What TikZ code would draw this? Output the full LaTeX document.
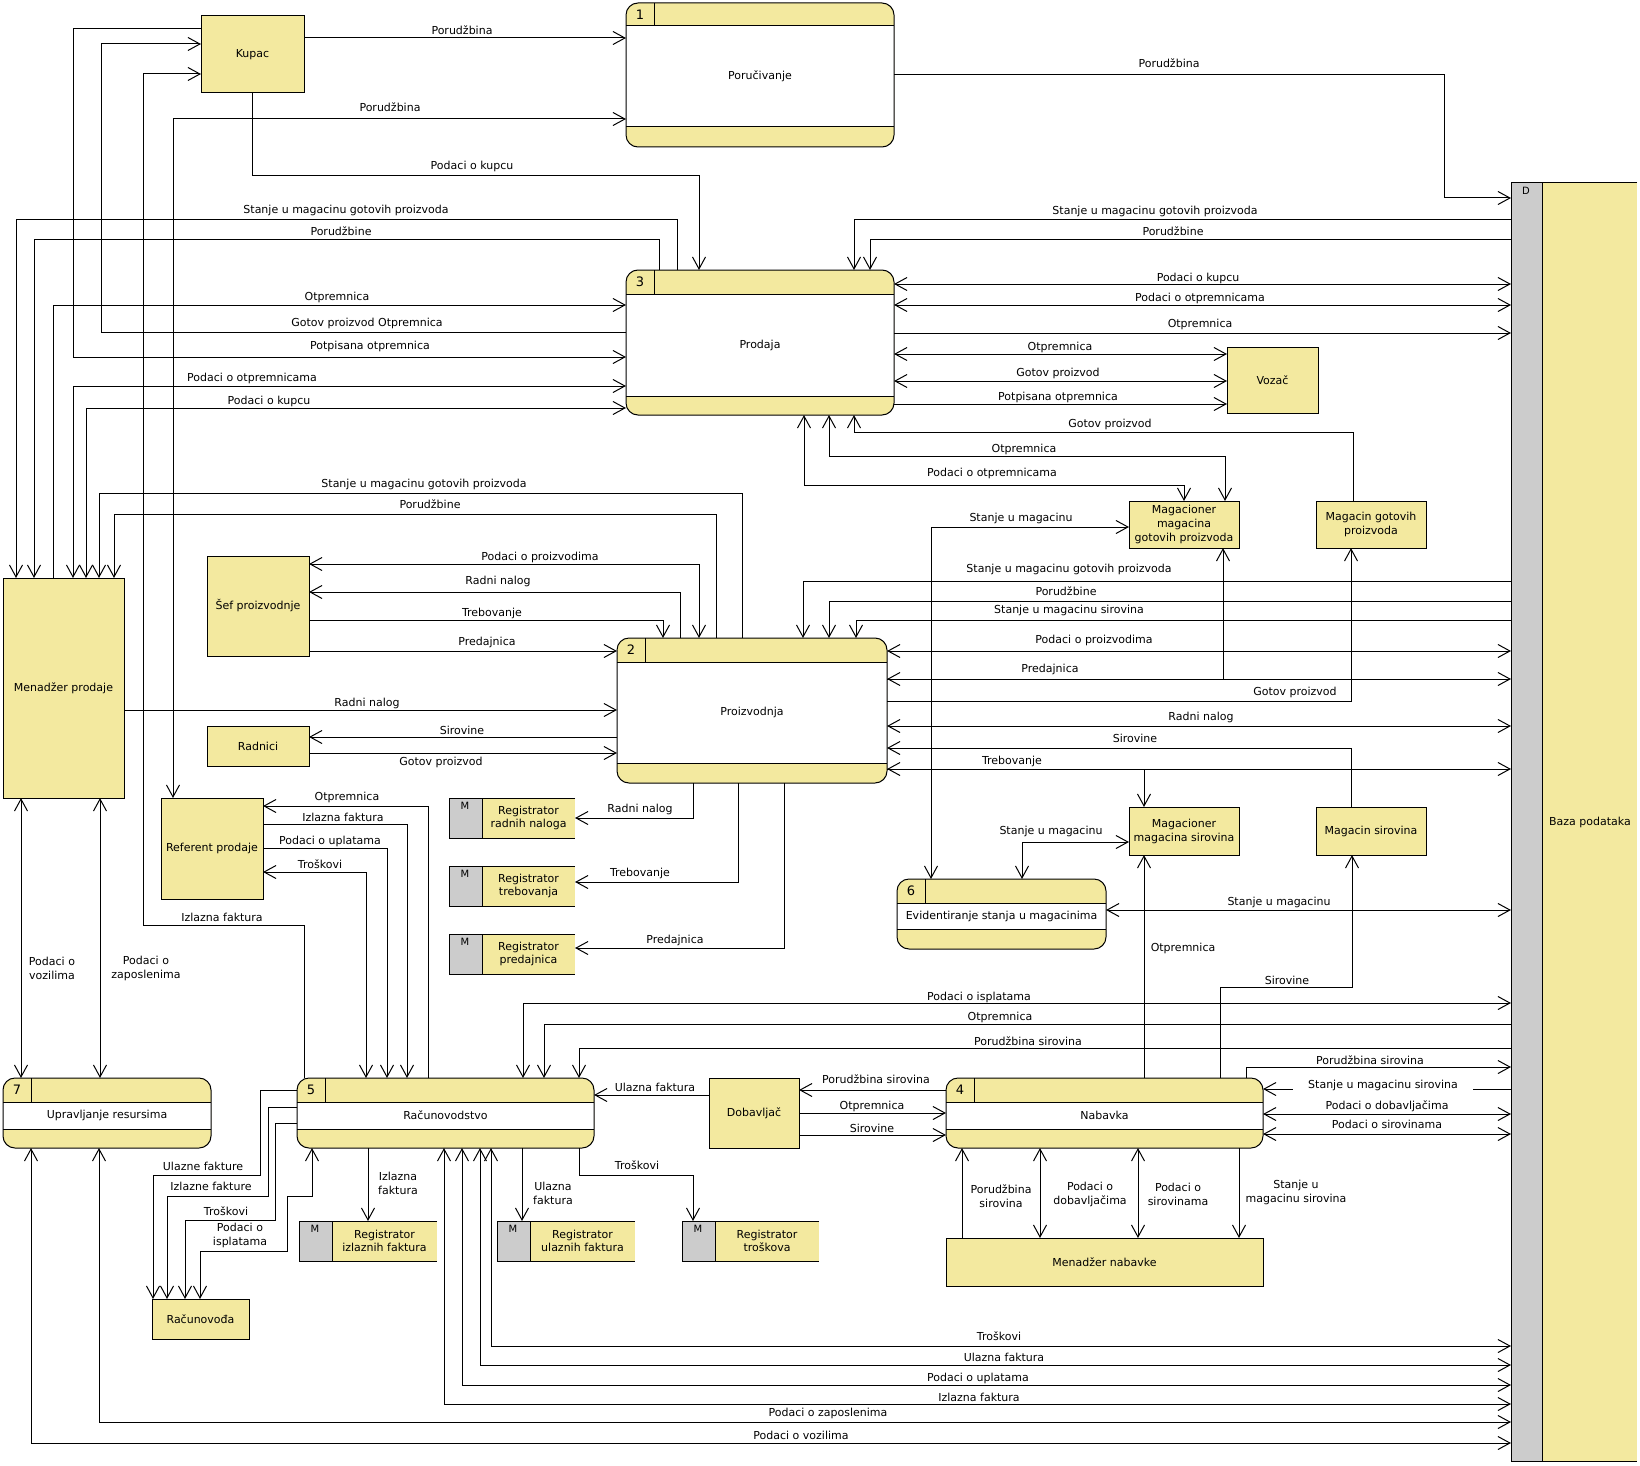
\documentclass[tikz,border=0pt]{standalone}
\usepackage{fontspec}
\setmainfont{DejaVu Sans}
\usetikzlibrary{arrows.meta,fit}
\definecolor{yel}{RGB}{243,233,159}
\definecolor{gry}{RGB}{204,204,204}
\newcounter{lc}
\newcommand\lbl[2]{\stepcounter{lc}\node[lab] (lab\arabic{lc}) at (#1) {#2};}
\newcommand\ent[6]{\node[ent, minimum width={(#4-#2)*1pt}, minimum height={(#5-#3)*1pt}] (#1) at ({(#2+#4)/2},{(#3+#5)/2}) {#6};}
\newcommand\proc[9]{%
 \fill[yel,rounded corners=12pt] (#2,#3) rectangle (#4,#5);
 \fill[white] (#2,#6) rectangle (#4,#7);
 \draw (#2,#6) -- (#4,#6) (#2,#7) -- (#4,#7) ({#2+28},#3) -- ({#2+28},#6);
 \draw[rounded corners=12pt] (#2,#3) rectangle (#4,#5);
 \node[inner sep=0pt, outer sep=0pt, fit={(#2,#3) (#4,#5)}] (#1) {};
 \node[font=\fontsize{13}{15}\selectfont] (#1n) at ({#2+14},{(#3+#6)/2}) {#8};
 \node (#1t) at ({(#2+#4)/2},{(#6+#7)/2}) {#9};
}
\newcommand\dstore[6]{%
 \fill[yel] (#2,#3) rectangle (#4,#5);
 \fill[gry] (#2,#3) rectangle ({#2+33},#5);
 \draw (#4,#3) -- (#2,#3) -- (#2,#5) -- (#4,#5) ({#2+33},#3) -- ({#2+33},#5);
 \node[inner sep=0pt, outer sep=0pt, fit={(#2,#3) (#4,#5)}] (#1) {};
 \node[font=\fontsize{10}{12}\selectfont] (#1m) at ({#2+16},{#3+8}) {M};
 \node[align=center, font=\fontsize{11}{13}\selectfont] (#1t) at ({(#2+33+#4)/2},{(#3+#5)/2}) {#6};
}
\begin{document}
\begin{tikzpicture}[x=1pt,y=-1pt, line width=1pt, font=\fontsize{11}{14}\selectfont,
  >={Straight Barb[length=12pt,width=13pt]},
  arr/.style={->}, barr/.style={<->},
  ent/.style={draw, fill=yel, inner sep=1pt, outer sep=0pt, align=center},
  lab/.style={inner sep=1pt, align=center}]
\useasboundingbox (0,0) rectangle (1640,1466);
\fill[white] (0,0) rectangle (1640,1466);

% data store D
\fill[yel] (1511,183) rectangle (1637,1461);
\fill[gry] (1511,183) rectangle (1542,1461);
\draw (1637,183) -- (1511,183) -- (1511,1461) -- (1637,1461) (1542,183) -- (1542,1461);
\node[inner sep=0pt, outer sep=0pt, fit={(1511,183) (1637,1461)}] (db) {};
\node[font=\fontsize{10}{12}\selectfont] (dbd) at (1526,191) {D};
\node (dbt) at (1590,822) {Baza podataka};

% processes
\proc{p1}{626}{3}{894}{147}{26}{127}{1}{Poručivanje}
\proc{p3}{626}{270}{894}{415}{294}{396}{3}{Prodaja}
\proc{p2}{617}{638}{887}{783}{662}{763}{2}{Proizvodnja}
\proc{p6}{897}{879}{1106}{949}{903}{929}{6}{Evidentiranje stanja u magacinima}
\proc{p7}{3}{1078}{211}{1148}{1102}{1129}{7}{Upravljanje resursima}
\proc{p5}{297}{1078}{594}{1148}{1102}{1129}{5}{Računovodstvo}
\proc{p4}{946}{1078}{1263}{1148}{1102}{1129}{4}{Nabavka}

% entities
\ent{kupac}{201}{16}{304}{93}{Kupac}
\ent{vozac}{1227}{347}{1318}{413}{Vozač}
\ent{mgot}{1129}{501}{1239}{548}{Magacioner\\magacina\\gotovih proizvoda}
\ent{magot}{1316}{501}{1426}{548}{Magacin gotovih\\proizvoda}
\ent{mp}{3}{578}{124}{798}{Menadžer prodaje}
\ent{sef}{207}{556}{309}{656}{Šef proizvodnje}
\ent{rad}{207}{726}{309}{766}{Radnici}
\ent{ref}{161}{798}{263}{899}{Referent prodaje}
\ent{msir}{1129}{807}{1239}{855}{Magacioner\\magacina sirovina}
\ent{masir}{1316}{807}{1426}{855}{Magacin sirovina}
\ent{racd}{152}{1299}{249}{1339}{Računovođa}
\ent{dob}{709}{1078}{799}{1148}{Dobavljač}
\ent{mn}{946}{1238}{1263}{1286}{Menadžer nabavke}

% data stores M
\dstore{rrn}{449}{798}{575}{838}{Registrator\\radnih naloga}
\dstore{rtr}{449}{866}{575}{906}{Registrator\\trebovanja}
\dstore{rpr}{449}{934}{575}{974}{Registrator\\predajnica}
\dstore{rif}{299}{1221}{437}{1261}{Registrator\\izlaznih faktura}
\dstore{ruf}{497}{1221}{635}{1261}{Registrator\\ulaznih faktura}
\dstore{rtk}{682}{1221}{819}{1261}{Registrator\\troškova}

% ---- connectors: p1
\draw[arr] (kupac.east|-0,38) -- (p1.west|-0,38);
\draw[barr] (ref.north-|173,0) |- (p1.west|-0,119);
\draw[arr] (p1.east|-0,75) -- (1444,75) -- (1444,198) -- (db.west|-0,198);
% p3 left/top
\draw[arr] (kupac.south-|252,0) |- (699,176) -- (p3.north-|699,0);
\draw[arr] (p3.north-|677,0) |- (16,219) -- (mp.north-|16,0);
\draw[arr] (p3.north-|659,0) |- (34,239) -- (mp.north-|34,0);
\draw[arr] (mp.north-|53,0) |- (p3.west|-0,305);
\draw[arr] (p3.west|-0,332) -| (101,44) -- (kupac.west|-0,44);
\draw[arr] (kupac.west|-0,29) -| (73,357) -- (p3.west|-0,357);
\draw[barr] (mp.north-|73,0) |- (p3.west|-0,386);
\draw[barr] (mp.north-|86,0) |- (p3.west|-0,408);
\draw[arr] (p5.north-|304,0) |- (143,925) |- (kupac.west|-0,74);
% p3 right
\draw[arr] (db.west|-0,219) -| (p3.north-|854,0);
\draw[arr] (db.west|-0,239) -| (p3.north-|870,0);
\draw[barr] (p3.east|-0,284) -- (db.west|-0,284);
\draw[barr] (p3.east|-0,305) -- (db.west|-0,305);
\draw[arr] (p3.east|-0,333) -- (db.west|-0,333);
\draw[barr] (p3.east|-0,354) -- (vozac.west|-0,354);
\draw[barr] (p3.east|-0,381) -- (vozac.west|-0,381);
\draw[arr] (p3.east|-0,404) -- (vozac.west|-0,404);
\draw[arr] (magot.north-|1353,0) |- (854,432) -- (p3.south-|854,0);
\draw[barr] (p3.south-|829,0) |- (1225,456) -- (mgot.north-|1225,0);
\draw[barr] (p3.south-|804,0) |- (1184,485) -- (mgot.north-|1184,0);
% p2 left/top
\draw[arr] (p2.north-|742,0) |- (99,493) -- (mp.north-|99,0);
\draw[arr] (p2.north-|716,0) |- (114,514) -- (mp.north-|114,0);
\draw[barr] (sef.east|-0,564) -| (p2.north-|699,0);
\draw[arr] (p2.north-|680,0) |- (sef.east|-0,592);
\draw[arr] (sef.east|-0,620) -| (p2.north-|663,0);
\draw[arr] (sef.east|-0,651) -- (p2.west|-0,651);
\draw[arr] (mp.east|-0,710) -- (p2.west|-0,710);
\draw[arr] (p2.west|-0,737) -- (rad.east|-0,737);
\draw[arr] (rad.east|-0,753) -- (p2.west|-0,753);
\draw[arr] (p2.south-|693,0) |- (rrn.east|-0,818);
\draw[arr] (p2.south-|738,0) |- (rtr.east|-0,882);
\draw[arr] (p2.south-|784,0) |- (rpr.east|-0,948);
% p2 right
\draw[arr] (db.west|-0,581) -| (p2.north-|803,0);
\draw[arr] (db.west|-0,601) -| (p2.north-|829,0);
\draw[arr] (db.west|-0,620) -| (p2.north-|856,0);
\draw[barr] (p2.east|-0,651) -- (db.west|-0,651);
\draw[barr] (mgot.south-|1223,0) |- (p2.east|-0,679);
\draw[arr] (p2.east|-0,679) -- (db.west|-0,679);
\draw[arr] (p2.east|-0,701) -| (magot.south-|1351,0);
\draw[barr] (p2.east|-0,726) -- (db.west|-0,726);
\draw[arr] (masir.north-|1351,0) |- (p2.east|-0,748);
\draw[barr] (p2.east|-0,769) -| (msir.north-|1144,0);
\draw[arr] (p2.east|-0,769) -- (db.west|-0,769);
% p6
\draw[barr] (p6.north-|931,0) |- (mgot.west|-0,527);
\draw[barr] (p6.north-|1022,0) |- (msir.west|-0,842);
\draw[barr] (p6.east|-0,910) -- (db.west|-0,910);
% referent / p5
\draw[arr] (p5.north-|428,0) |- (ref.east|-0,806);
\draw[arr] (ref.east|-0,824) -| (p5.north-|407,0);
\draw[arr] (ref.east|-0,848) -| (p5.north-|387,0);
\draw[barr] (ref.east|-0,872) -| (p5.north-|366,0);
% menadzer prodaje / p7
\draw[barr] (mp.south-|21,0) -- (p7.north-|21,0);
\draw[barr] (mp.south-|100,0) -- (p7.north-|100,0);
% p5 / racunovodja
\draw[arr] (p5.west|-0,1090) -| (260,1175) -| (racd.north-|153,0);
\draw[arr] (p5.west|-0,1107) -| (268,1196) -| (racd.north-|167,0);
\draw[arr] (p5.west|-0,1123) -| (275,1220) -| (racd.north-|185,0);
\draw[barr] (p5.south-|312,0) |- (287,1196) |- (200,1251) -- (racd.north-|200,0);
% p5 bottom
\draw[arr] (p5.south-|368,0) -- (rif.north-|368,0);
\draw[arr] (p5.south-|522,0) -- (ruf.north-|522,0);
\draw[arr] (p5.south-|579,0) |- (693,1175) -- (rtk.north-|693,0);
\draw[barr] (p5.south-|491,0) |- (db.west|-0,1346);
\draw[barr] (p5.south-|480,0) |- (db.west|-0,1365);
\draw[barr] (p5.south-|462,0) |- (db.west|-0,1385);
\draw[barr] (p5.south-|444,0) |- (db.west|-0,1404);
\draw[barr] (p7.south-|99,0) |- (db.west|-0,1422);
\draw[barr] (p7.south-|31,0) |- (db.west|-0,1443);
% p5 top from store
\draw[barr] (db.west|-0,1003) -| (p5.north-|523,0);
\draw[arr] (db.west|-0,1024) -| (p5.north-|544,0);
\draw[arr] (db.west|-0,1048) -| (p5.north-|579,0);
% dobavljac
\draw[arr] (dob.west|-0,1095) -- (p5.east|-0,1095);
\draw[arr] (p4.west|-0,1090) -- (dob.east|-0,1090);
\draw[arr] (dob.east|-0,1113) -- (p4.west|-0,1113);
\draw[arr] (dob.east|-0,1135) -- (p4.west|-0,1135);
% p4
\draw[arr] (p4.north-|1246,0) |- (db.west|-0,1067);
\draw[arr] (db.west|-0,1089) -- (p4.east|-0,1089);
\draw[barr] (p4.east|-0,1114) -- (db.west|-0,1114);
\draw[barr] (p4.east|-0,1134) -- (db.west|-0,1134);
\draw[arr] (p4.south-|1239,0) -- (mn.north-|1239,0);
\draw[arr] (mn.north-|962,0) -- (p4.south-|962,0);
\draw[barr] (p4.south-|1040,0) -- (mn.north-|1040,0);
\draw[barr] (p4.south-|1138,0) -- (mn.north-|1138,0);
\draw[arr] (p4.north-|1144,0) -- (msir.south-|1144,0);
\draw[arr] (p4.north-|1220,0) |- (1352,987) -- (masir.south-|1352,0);

% ---- labels
\lbl{462,30}{Porudžbina}
\lbl{390,107}{Porudžbina}
\lbl{472,166}{Podaci o kupcu}
\lbl{346,210}{Stanje u magacinu gotovih proizvoda}
\lbl{341,231}{Porudžbine}
\lbl{337,297}{Otpremnica}
\lbl{367,323}{Gotov proizvod Otpremnica}
\lbl{370,346}{Potpisana otpremnica}
\lbl{252,378}{Podaci o otpremnicama}
\lbl{269,401}{Podaci o kupcu}
\lbl{1169,63}{Porudžbina}
\lbl{1155,211}{Stanje u magacinu gotovih proizvoda}
\lbl{1173,231}{Porudžbine}
\lbl{1198,278}{Podaci o kupcu}
\lbl{1200,298}{Podaci o otpremnicama}
\lbl{1200,324}{Otpremnica}
\lbl{1060,347}{Otpremnica}
\lbl{1058,373}{Gotov proizvod}
\lbl{1058,397}{Potpisana otpremnica}
\lbl{1110,424}{Gotov proizvod}
\lbl{1024,449}{Otpremnica}
\lbl{992,473}{Podaci o otpremnicama}
\lbl{424,484}{Stanje u magacinu gotovih proizvoda}
\lbl{430,504}{Porudžbine}
\lbl{1021,518}{Stanje u magacinu}
\lbl{540,557}{Podaci o proizvodima}
\lbl{498,581}{Radni nalog}
\lbl{492,613}{Trebovanje}
\lbl{487,642}{Predajnica}
\lbl{367,703}{Radni nalog}
\lbl{462,730}{Sirovine}
\lbl{441,762}{Gotov proizvod}
\lbl{640,809}{Radni nalog}
\lbl{640,873}{Trebovanje}
\lbl{675,940}{Predajnica}
\lbl{1069,569}{Stanje u magacinu gotovih proizvoda}
\lbl{1066,591}{Porudžbine}
\lbl{1069,610}{Stanje u magacinu sirovina}
\lbl{1094,640}{Podaci o proizvodima}
\lbl{1050,669}{Predajnica}
\lbl{1295,692}{Gotov proizvod}
\lbl{1201,717}{Radni nalog}
\lbl{1135,738}{Sirovine}
\lbl{1012,761}{Trebovanje}
\lbl{347,797}{Otpremnica}
\lbl{343,817}{Izlazna faktura}
\lbl{330,841}{Podaci o uplatama}
\lbl{320,864}{Troškovi}
\lbl{222,917}{Izlazna faktura}
\lbl{1051,831}{Stanje u magacinu}
\lbl{1279,902}{Stanje u magacinu}
\lbl{1183,948}{Otpremnica}
\lbl{1287,980}{Sirovine}
\lbl{52,968}{Podaci o\\vozilima}
\lbl{146,968}{Podaci o\\zaposlenima}
\lbl{979,997}{Podaci o isplatama}
\lbl{1000,1017}{Otpremnica}
\lbl{1028,1041}{Porudžbina sirovina}
\lbl{1370,1060}{Porudžbina sirovina}
\node[lab, fill=white, inner xsep=15pt, inner ysep=2pt] (labsms) at (1383,1085) {Stanje u magacinu sirovina};
\lbl{1387,1106}{Podaci o dobavljačima}
\lbl{1387,1124}{Podaci o sirovinama}
\lbl{876,1079}{Porudžbina sirovina}
\lbl{872,1106}{Otpremnica}
\lbl{872,1128}{Sirovine}
\lbl{655,1087}{Ulazna faktura}
\lbl{203,1166}{Ulazne fakture}
\lbl{211,1186}{Izlazne fakture}
\lbl{226,1211}{Troškovi}
\lbl{240,1235}{Podaci o\\isplatama}
\lbl{398,1183}{Izlazna\\faktura}
\lbl{553,1193}{Ulazna\\faktura}
\lbl{637,1165}{Troškovi}
\lbl{1001,1196}{Porudžbina\\sirovina}
\lbl{1090,1194}{Podaci o\\dobavljačima}
\lbl{1178,1194}{Podaci o\\sirovinama}
\lbl{1296,1192}{Stanje u\\magacinu sirovina}
\lbl{999,1336}{Troškovi}
\lbl{1004,1357}{Ulazna faktura}
\lbl{978,1378}{Podaci o uplatama}
\lbl{979,1397}{Izlazna faktura}
\lbl{828,1413}{Podaci o zaposlenima}
\lbl{801,1435}{Podaci o vozilima}
\end{tikzpicture}
\end{document}
